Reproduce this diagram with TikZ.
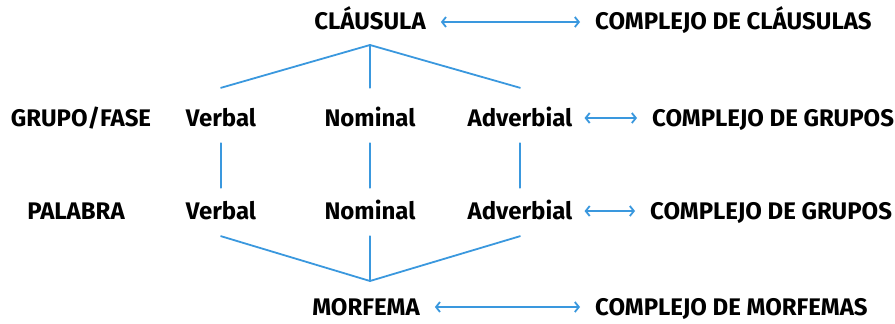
\documentclass[tikz,border=0pt]{standalone}
\usepackage{fontspec}
\setmainfont{Fira Sans}
\usetikzlibrary{arrows.meta}
\definecolor{lineblue}{RGB}{58,152,222}
\begin{document}
\begin{tikzpicture}[x=1pt,y=-1pt,line cap=round,
  word/.style={font=\bfseries\fontsize{24}{28}\selectfont,inner sep=0pt,text height=16pt,text depth=0pt},
  link/.style={draw=lineblue,line width=1.8pt},
  both/.style={draw=lineblue,line width=1.8pt,{Straight Barb[length=4pt,width=10pt]}-{Straight Barb[length=4pt,width=10pt]},shorten <=15pt,shorten >=15pt}]
\useasboundingbox (0,0) rectangle (895,324);
% levels
\node[word] (cl) at (370,22) {CLÁUSULA};
\node[word,anchor=west] (ccl) at (595,22) {COMPLEJO DE CLÁUSULAS};
\node[word] (gf) at (81,118) {GRUPO/FASE};
\node[word] (pal) at (76,211) {PALABRA};
\node[word] (mo) at (366,307) {MORFEMA};
\node[word,anchor=west] (cmo) at (595,307) {COMPLEJO DE MORFEMAS};
\foreach \n/\t/\x in {v/Verbal/221,n/Nominal/370,a/Adverbial/520}
{
\node[word] (g\n) at (\x,118) {\t};
\node[word] (p\n) at (\x,211) {\t};
}
\node[word,anchor=west] (cgr) at (652,118) {COMPLEJO DE GRUPOS};
\node[word,anchor=west] (cpa) at (650,211) {COMPLEJO DE GRUPOS};
% tree
\coordinate (top) at (370,45);
\coordinate (bot) at (370,281);
\foreach \n in {v,n,a}
{
\draw[link] (top) -- ([yshift=22pt]g\n.north);
\draw[link,shorten <=17pt,shorten >=15pt] (g\n.south) -- (p\n.north);
\draw[link] ([yshift=-17pt]p\n.south) -- (bot);
}
% complexes
\draw[both] (cl.east) -- (ccl.west);
\draw[both,shorten <=12pt] (ga.east) -- (cgr.west);
\draw[both,shorten <=12pt] (pa.east) -- (cpa.west);
\draw[both] (mo.east) -- (cmo.west);
\end{tikzpicture}
\end{document}
